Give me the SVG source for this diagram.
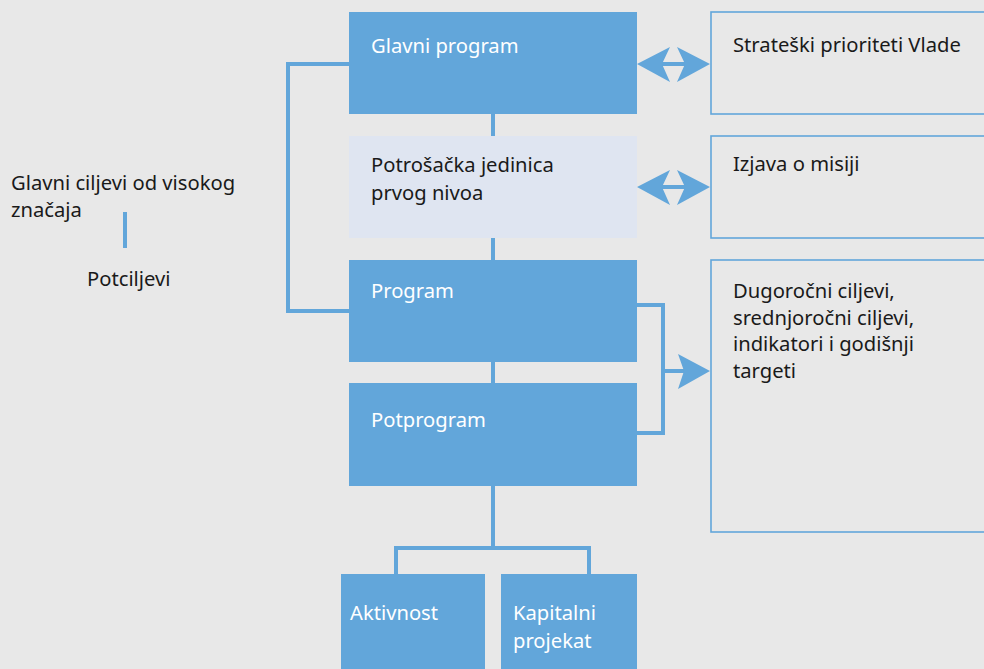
<svg xmlns="http://www.w3.org/2000/svg" width="984" height="669" viewBox="0 0 984 669">
<style>
text{font-family:"Noto Sans","Open Sans",sans-serif;font-size:20.2px}
.w{fill:#ffffff}
.k{fill:#1a1a1a}
.b{fill:#62a6da}
.l{fill:#dfe5f1}
.o{fill:none;stroke:#62a6da;stroke-width:1.6}
.c{fill:none;stroke:#62a6da;stroke-width:4}
.h{fill:#62a6da}
</style>
<rect width="984" height="669" fill="#e8e8e8"/>
<g id="connectors">
<path class="c" d="M493,114V136M493,238V260M493,362V383"/>
<path class="c" d="M349,64H288V311H349"/>
<path class="c" d="M637,305H663V433H637"/>
<path class="c" d="M663,371H685"/>
<path class="c" d="M493,486V548M396,574V548H589V574"/>
<path class="c" d="M662,64H686M662,187H686"/>
<path class="h" d="M637,64L670,47L662,64L670,82Z M710,64L677,47L685,64L677,82Z"/>
<path class="h" d="M637,187L670,170L662,187L670,205Z M710,187L677,170L685,187L677,205Z"/>
<path class="h" d="M710,371L678,354L684,371L678,389Z"/>
<path class="c" d="M125,212V248" stroke-width="3"/>
</g>
<g id="n1"><rect class="b" x="349" y="12" width="288" height="102"/><text class="w" x="371" y="53">Glavni program</text></g>
<g id="n2"><rect class="l" x="349" y="136" width="288" height="102"/><text class="k" x="371" y="172">Potrošačka jedinica</text><text class="k" x="371" y="200">prvog nivoa</text></g>
<g id="n3"><rect class="b" x="349" y="260" width="288" height="102"/><text class="w" x="371" y="298">Program</text></g>
<g id="n4"><rect class="b" x="349" y="383" width="288" height="103"/><text class="w" x="371" y="427">Potprogram</text></g>
<g id="n5"><rect class="b" x="341" y="574" width="144" height="95"/><text class="w" x="350" y="620">Aktivnost</text></g>
<g id="n6"><rect class="b" x="501" y="574" width="136" height="95"/><text class="w" x="513" y="620">Kapitalni</text><text class="w" x="513" y="648">projekat</text></g>
<g id="r1"><rect class="o" x="711" y="12" width="280" height="102"/><text class="k" x="733" y="52">Strateški prioriteti Vlade</text></g>
<g id="r2"><rect class="o" x="711" y="136" width="280" height="102"/><text class="k" x="733" y="171">Izjava o misiji</text></g>
<g id="r3"><rect class="o" x="711" y="260" width="280" height="272"/><text class="k" x="733" y="298">Dugoročni ciljevi,</text><text class="k" x="733" y="325">srednjoročni ciljevi,</text><text class="k" x="733" y="351">indikatori i godišnji</text><text class="k" x="733" y="378">targeti</text></g>
<g id="legend"><text class="k" x="11" y="190">Glavni ciljevi od visokog</text><text class="k" x="11" y="217">značaja</text><text class="k" x="87" y="286">Potciljevi</text></g>
</svg>
